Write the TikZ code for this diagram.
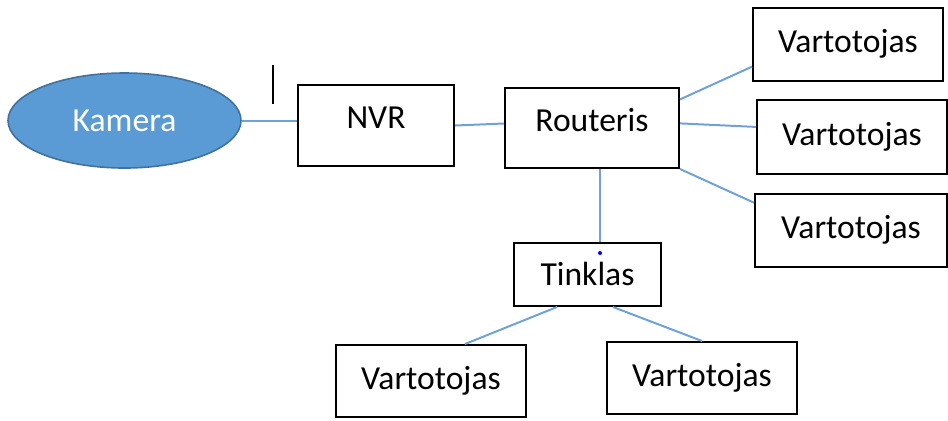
\documentclass[tikz,border=0pt]{standalone}
\usepackage{fontspec}
\setmainfont{Carlito}
\usetikzlibrary{shapes.geometric}

\definecolor{camfill}{HTML}{5B9BD5}
\definecolor{camedge}{HTML}{41719C}
\definecolor{linkblue}{HTML}{6FA3D8}

\tikzset{
  box/.style={draw, line width=1pt, inner sep=0pt, text height=12pt, text depth=4pt},
  user/.style={box, minimum width=95pt, minimum height=36.5pt},
  link/.style={draw=linkblue, line width=1pt}
}

\begin{document}
\begin{tikzpicture}[x=0.5pt, y=-0.5pt, font=\fontsize{16.8}{20}\selectfont]
\useasboundingbox[fill=white] (0,0) rectangle (948,420);

\node[ellipse, draw=camedge, fill=camfill, line width=0.8pt, text=white,
  minimum width=116.5pt, minimum height=47.5pt, inner sep=0pt] (kam) at (124.5,120.5) {Kamera};
\node[box, minimum width=78pt, minimum height=40.5pt, text depth=9pt] (nvr) at (376,125.5) {NVR};
\node[box, minimum width=87pt, minimum height=40pt, text depth=9pt] (rtr) at (592,128) {Routeris};
\node[box, minimum width=73.5pt, minimum height=31.5pt, text height=15pt] (tnk) at (587.5,274.5) {Tinklas};

\node[user] (v1) at (848,44.5) {Vartotojas};
\node[user, minimum width=95pt, minimum height=37pt] (v2) at (852,137) {Vartotojas};
\node[user, minimum width=96pt] (v3) at (851,230.5) {Vartotojas};
\node[user, minimum height=36pt] (vb1) at (431,381) {Vartotojas};
\node[user, minimum height=36pt] (vb2) at (702,378) {Vartotojas};

% connectors
\draw[link] (kam.east) -- (kam.east -| nvr.west);
\draw[link] (nvr.east) -- ([yshift=1pt]nvr.east -| rtr.west);
\draw[link] (rtr.18) -- (v1.193);
\draw[link] (rtr.3) -- (v2.174);
\draw[link] (rtr.south east) -- (v3.164);
\draw[link] ([xshift=4pt]rtr.south) -- ([xshift=4pt]rtr.south |- tnk.north);
\draw[link] ([xshift=-15.25pt]tnk.south) -- ([xshift=17pt]vb1.north);
\draw[link] ([xshift=12.75pt]tnk.south) -- (vb2.north);

% stray marks
\draw[line width=1pt] (272.5,65) -- (272.5,104);
\fill[blue] (600,253) circle (1pt);
\end{tikzpicture}
\end{document}
